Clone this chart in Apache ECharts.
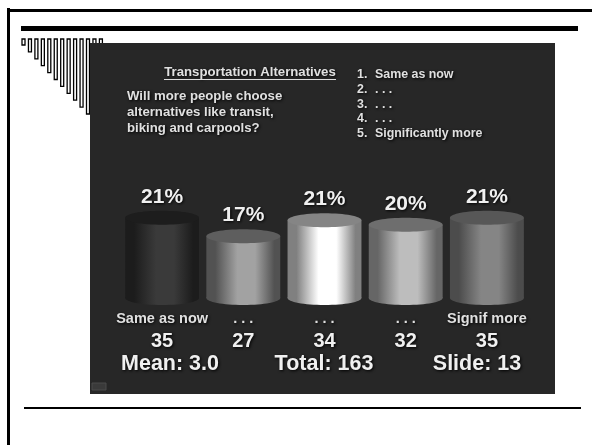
<!DOCTYPE html>
<html>
<head>
<meta charset="utf-8">
<style>html,body{margin:0;padding:0;background:#fff}#main{width:592px;height:445px}#main canvas{filter:blur(0.45px)}</style>
<script src="https://cdn.jsdelivr.net/npm/echarts@6/dist/echarts.min.js"></script>
</head>
<body>
<div id="main"></div>
<script>
var categories = ['Same as now', '. . .', '. . .', '. . .', 'Signif more'];
var counts = [35, 27, 34, 32, 35];
var percents = ['21%', '17%', '21%', '20%', '21%'];
var summary = ['Mean: 3.0', 'Total: 163', 'Slide: 13'];
var question = ['Will more people choose', 'alternatives like transit,', 'biking and carpools?'];
var scaleNumbers = ['1.', '2.', '3.', '4.', '5.'];
var scaleNames = ['Same as now', '. . .', '. . .', '. . .', 'Significantly more'];
// edge, middle, lid
var tones = [
    ['#1c1c1c', '#3a3a3a', '#1d1d1d'],
    ['#525252', '#a2a2a2', '#5e5e5e'],
    ['#808080', '#ffffff', '#858585'],
    ['#666666', '#bdbdbd', '#6e6e6e'],
    ['#4c4c4c', '#858585', '#575757']
];

var myChart = echarts.init(document.getElementById('main'), null, {renderer: 'canvas'});
var font = '"Liberation Sans", Arial, sans-serif';
var glow = {textShadowColor: '#000', textShadowBlur: 3, textShadowOffsetX: 1, textShadowOffsetY: 1};

function panelText(str, x, y, size, align, color) {
    return {
        type: 'text', z: 1, x: x, y: y,
        style: Object.assign({
            text: str, fill: color || '#e0e0e0', font: 'bold ' + size + 'px ' + font,
            textAlign: align || 'left', textVerticalAlign: 'middle'
        }, glow)
    };
}

var graphics = [
    // page frame
    {type: 'rect', shape: {x: 7, y: 8, width: 3, height: 437}, style: {fill: '#000'}},
    {type: 'rect', shape: {x: 7, y: 9, width: 585, height: 3}, style: {fill: '#000'}},
    {type: 'rect', shape: {x: 21, y: 26, width: 557, height: 5}, style: {fill: '#000'}},
    {type: 'rect', shape: {x: 24, y: 407, width: 557, height: 2}, style: {fill: '#000'}}
];

// corner comb
for (var i = 0; i < 13; i++) {
    graphics.push({
        type: 'rect',
        shape: {x: 22 + i * 6.45, y: 39, width: 3, height: 6 + i * 6.9},
        style: {fill: '#fff', stroke: '#000', lineWidth: 1.3}
    });
}

graphics.push({type: 'rect', z: 0, shape: {x: 90, y: 43, width: 465, height: 351}, style: {fill: '#272727'}});
graphics.push({type: 'rect', z: 1, shape: {x: 92, y: 383, width: 14, height: 7}, style: {fill: '#3a3a3a', stroke: '#4a4a4a', lineWidth: 1}});

graphics.push(panelText('Transportation Alternatives', 250, 72, 13.2, 'center'));
graphics.push({type: 'rect', z: 1, shape: {x: 164, y: 79, width: 172, height: 1}, style: {fill: '#ddd'}});
question.forEach(function (line, i) {
    graphics.push(panelText(line, 127, 96 + i * 16, 13.2));
});
scaleNumbers.forEach(function (n, i) {
    graphics.push(panelText(n, 357, 75 + i * 14.6, 12.4));
    graphics.push(panelText(scaleNames[i], 375, 75 + i * 14.6, 12.4));
});
graphics.push(panelText(summary[0], 170, 364, 21.5, 'center', '#f0f0f0'));
graphics.push(panelText(summary[1], 324, 364, 21.5, 'center', '#f0f0f0'));
graphics.push(panelText(summary[2], 477, 364, 21.5, 'center', '#f0f0f0'));

function renderCylinder(params, api) {
    var idx = api.value(0);
    var top = api.coord([idx, api.value(1)]);
    var base = api.coord([idx, 0]);
    var halfW = api.size([1, 0])[0] * 0.455;
    var ry = 7;
    var t = tones[idx];
    var side = new echarts.graphic.LinearGradient(0, 0, 1, 0, [
        {offset: 0, color: t[0]},
        {offset: 0.12, color: t[0]},
        {offset: 0.42, color: t[1]},
        {offset: 0.66, color: t[1]},
        {offset: 0.92, color: t[0]},
        {offset: 1, color: t[0]}
    ]);
    return {
        type: 'group',
        children: [
            {type: 'ellipse', shape: {cx: base[0], cy: base[1], rx: halfW, ry: ry}, style: {fill: side}},
            {type: 'rect', shape: {x: base[0] - halfW, y: top[1], width: halfW * 2, height: base[1] - top[1]}, style: {fill: side}},
            {type: 'ellipse', shape: {cx: top[0], cy: top[1], rx: halfW, ry: ry}, style: {fill: t[2]}},
            {
                type: 'text', x: top[0], y: top[1] - 21,
                style: Object.assign({
                    text: percents[idx], fill: '#f0f0f0', font: 'bold 21px ' + font,
                    textAlign: 'center', textVerticalAlign: 'middle'
                }, glow)
            }
        ]
    };
}

var option = {
    backgroundColor: '#fff',
    animation: false,
    graphic: graphics,
    grid: {left: 121.5, width: 406, top: 206.4, height: 91.6},
    xAxis: {
        type: 'category',
        data: categories,
        axisLine: {show: false},
        axisTick: {show: false},
        axisLabel: {
            interval: 0,
            margin: 11,
            formatter: function (value, index) {
                return '{name|' + value + '}\n{count|' + counts[index] + '}';
            },
            rich: {
                name: Object.assign({color: '#e0e0e0', fontFamily: font, fontWeight: 'bold', fontSize: 14.5, lineHeight: 20, align: 'center'}, glow),
                count: Object.assign({color: '#f0f0f0', fontFamily: font, fontWeight: 'bold', fontSize: 20, lineHeight: 24, align: 'center'}, glow)
            }
        }
    },
    yAxis: {type: 'value', min: 0, max: 40, show: false},
    series: [{
        type: 'custom',
        renderItem: renderCylinder,
        encode: {x: 0, y: 1},
        z: 5,
        data: counts.map(function (c, i) { return [i, c]; })
    }]
};
myChart.setOption(option);
</script>
</body>
</html>
